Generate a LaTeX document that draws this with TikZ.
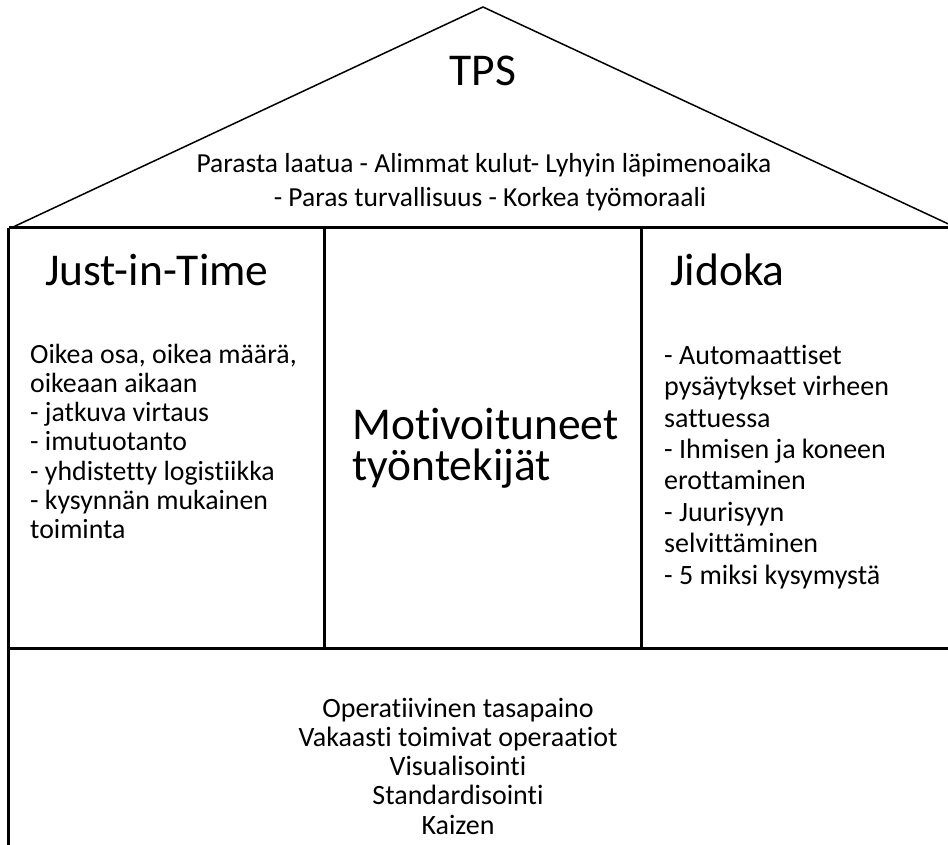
\documentclass[tikz,border=0pt]{standalone}
\usepackage{fontspec}
\setmainfont{Carlito}[Ligatures=NoCommon]
\begin{document}
\begin{tikzpicture}[x=1pt,y=-1pt,
  wall/.style={line width=3pt},
  roof/.style={line width=1.5pt},
  roofbody/.style={font=\fontsize{27.5}{34}\selectfont, inner sep=0pt},
  leftbody/.style={font=\fontsize{27.8}{29}\selectfont, inner sep=0pt},
  rightbody/.style={font=\fontsize{28}{31}\selectfont, inner sep=0pt},
  basebody/.style={font=\fontsize{28}{29}\selectfont, inner sep=0pt},
  big/.style={font=\fontsize{45.5}{50}\selectfont, inner sep=0pt}]
\useasboundingbox (0,0) rectangle (948,845);
\clip (0,0) rectangle (948,845);
% roof
\coordinate (apex) at (483,7);
\coordinate (rl) at (11,228);
\coordinate (rr) at (957,228);
\draw[roof] (rl) -- (apex) -- (rr);
% walls
\coordinate (tl) at (8.5,228);
\coordinate (tr) at (950,228);
\coordinate (bl) at (8.5,848);
\coordinate (ml) at (8.5,648);
\coordinate (mr) at (950,648);
\coordinate (d1t) at (324.5,228);
\coordinate (d1b) at (324.5,648);
\coordinate (d2t) at (641.5,228);
\coordinate (d2b) at (641.5,648);
\draw[wall] (tl) -- (tr);
\draw[wall] (tl) -- (bl);
\draw[wall] (ml) -- (mr);
\draw[wall] (d1t) -- (d1b);
\draw[wall] (d2t) -- (d2b);
% roof text
\node[big, anchor=base] (tps) at (483,86) {TPS};
\node[roofbody, anchor=mid] (g1) at (484,170) {Parasta laatua - Alimmat kulut- Lyhyin läpimenoaika};
\node[roofbody, anchor=mid] (g2) at (490,204) {- Paras turvallisuus - Korkea työmoraali};
% left pillar
\node[big, anchor=mid west] (jit) at (45,283) {Just-in-Time};
\node[leftbody, anchor=mid west] (l1) at (30,361) {Oikea osa, oikea määrä,};
\node[leftbody, anchor=mid west] (l2) at (30,390.2) {oikeaan aikaan};
\node[leftbody, anchor=mid west] (l3) at (30,419.4) {- jatkuva virtaus};
\node[leftbody, anchor=mid west] (l4) at (30,448.6) {- imutuotanto};
\node[leftbody, anchor=mid west] (l5) at (30,477.8) {- yhdistetty logistiikka};
\node[leftbody, anchor=mid west] (l6) at (30,507) {- kysynnän mukainen};
\node[leftbody, anchor=mid west] (l7) at (30,536.2) {toiminta};
% middle
\node[big, anchor=mid west] (m1) at (352,437) {Motivoituneet};
\node[big, anchor=mid west] (m2) at (352,478) {työntekijät};
% right pillar
\node[big, anchor=mid west] (jid) at (670,283) {Jidoka};
\node[rightbody, anchor=mid west] (r1) at (664,362) {- Automaattiset};
\node[rightbody, anchor=mid west] (r2) at (664,393.4) {pysäytykset virheen};
\node[rightbody, anchor=mid west] (r3) at (664,424.8) {sattuessa};
\node[rightbody, anchor=mid west] (r4) at (664,456.2) {- Ihmisen ja koneen};
\node[rightbody, anchor=mid west] (r5) at (664,487.6) {erottaminen};
\node[rightbody, anchor=mid west] (r6) at (664,519) {- Juurisyyn};
\node[rightbody, anchor=mid west] (r7) at (664,550.4) {selvittäminen};
\node[rightbody, anchor=mid west] (r8) at (664,581.8) {- 5 miksi kysymystä};
% foundation
\node[basebody, anchor=mid] (f1) at (458,715) {Operatiivinen tasapaino};
\node[basebody, anchor=mid] (f2) at (458,744.2) {Vakaasti toimivat operaatiot};
\node[basebody, anchor=mid] (f3) at (458,773.4) {Visualisointi};
\node[basebody, anchor=mid] (f4) at (458,802.6) {Standardisointi};
\node[basebody, anchor=mid] (f5) at (458,831.8) {Kaizen};
\end{tikzpicture}
\end{document}
